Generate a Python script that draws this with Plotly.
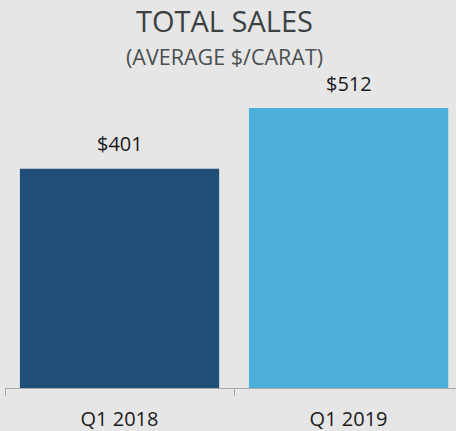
import plotly.graph_objects as go

categories = ["Q1 2018", "Q1 2019"]
values = [401, 512]
value_labels = ["$401", "$512"]
bar_colors = ["#1F4E79", "#4BAFD8"]

title_text = "TOTAL SALES"
subtitle_text = "(AVERAGE $/CARAT)"

FONT = "Open Sans"

fig = go.Figure()
fig.add_trace(go.Bar(
    x=categories, y=values,
    marker=dict(color=bar_colors, line=dict(width=0)),
    width=0.87,
    hoverinfo="skip",
))

for c, v, t in zip(categories, values, value_labels):
    fig.add_annotation(x=c, y=v, text=t, showarrow=False,
                       yanchor="middle", yshift=25,
                       font=dict(family=FONT, size=20, color="#1A1A1A"))

fig.add_annotation(xref="paper", yref="paper", x=0.4856, y=1.119,
                   text=title_text, showarrow=False, yanchor="middle",
                   font=dict(family=FONT, size=29, color="#3B4141"))
fig.add_annotation(xref="paper", yref="paper", x=0.4856, y=1.012,
                   text=subtitle_text, showarrow=False, yanchor="middle",
                   font=dict(family=FONT, size=21.5, color="#4A4F4F"))

fig.update_layout(
    width=456, height=431,
    margin=dict(l=5, r=0, t=60, b=43, pad=0),
    paper_bgcolor="#E6E6E6",
    plot_bgcolor="#E6E6E6",
    showlegend=False,
    bargap=0.13,
)
fig.update_xaxes(
    type="category",
    range=[-0.5, 1.469],
    showline=True, linecolor="#A8A8A8", linewidth=1,
    ticks="outside", tickson="boundaries", ticklen=7, tickcolor="#A8A8A8",
    tickfont=dict(family=FONT, size=20, color="#1A1A1A"),
    ticklabelstandoff=13,
    showgrid=False, zeroline=False,
)
fig.update_yaxes(
    range=[0, 600], visible=False, showgrid=False, zeroline=False,
)

fig.write_html(
    "out.html",
    config={"displayModeBar": False, "staticPlot": True},
    post_script="document.body.style.margin='0';document.body.style.overflow='hidden';",
)
